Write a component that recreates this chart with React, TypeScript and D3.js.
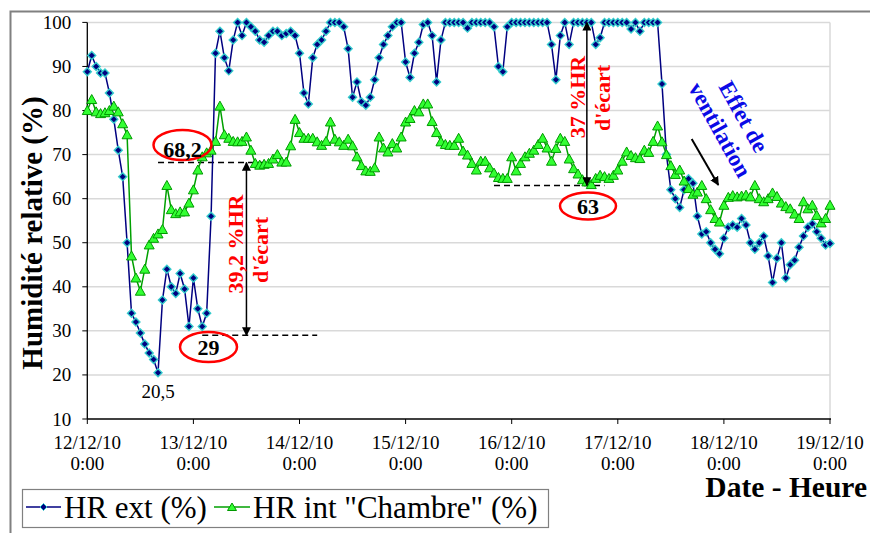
import { useEffect, useRef } from 'react'
import * as d3 from 'd3'

// time axis: one reading per hour from 12/12/10 0:00 to 19/12/10 0:00
const startDate = new Date(2010, 11, 12, 0, 0)
const endDate = new Date(2010, 11, 19, 0, 0)
const dayLabels = ['12/12/10', '13/12/10', '14/12/10', '15/12/10', '16/12/10', '17/12/10', '18/12/10', '19/12/10']
const hourLabel = '0:00'
const yTicks = [10, 20, 30, 40, 50, 60, 70, 80, 90, 100]

// HR ext (%)
const hrExt = [
  88.8, 92.5, 90, 88.5, 88.5, 84, 78, 71, 65, 50, 34, 32, 29.5, 27, 25, 23.5, 20.5, 37, 44, 40, 38.5, 43, 39.5, 31,
  42, 35, 31, 34, 56, 93, 98, 92, 89, 96, 100, 97, 100, 99, 98, 96, 95.5, 97, 98, 98, 97, 97.5, 98, 97,
  93, 84, 81.5, 92, 95, 96, 98, 100, 100, 100, 99, 94, 83, 86.5, 82, 81.2, 83, 87, 92, 95, 97, 99, 100, 100,
  91, 87.5, 93, 95.5, 99.5, 100, 97, 86.5, 96, 100, 100, 100, 100, 100, 98.7, 100, 100, 100, 100, 100, 99, 90, 88.8, 99,
  100, 100, 100, 100, 100, 100, 100, 100, 100, 95, 87, 97, 100, 95, 100, 100, 100, 100, 100, 95, 96.5, 100, 100, 100,
  100, 100, 100, 98.5, 100, 98, 100, 100, 100, 100, 86, 70, 62, 60, 58, 62, 64.5, 63.5, 56, 52, 52.5, 50, 48.5, 47.5,
  51, 53.5, 54, 53.5, 55.5, 54, 50, 48.5, 50, 51.5, 47, 41, 46.5, 50, 42, 45, 46, 49, 51.5, 53.5, 54.3, 52.5, 51, 49.5,
  49.8
]

// HR int "Chambre" (%)
const hrInt = [
  80, 82.5, 79.7, 79.3, 79.5, 80, 81, 79.7, 77, 74.5, 47, 42, 39, 44, 49.5, 51, 52, 53, 63, 57.5, 56.6, 57, 57, 59,
  62, 66.5, 69.5, 70.4, 71, 73, 81, 74.5, 73.7, 73, 72.9, 73, 74, 71, 68, 67.6, 67.8, 68, 69, 70, 68.3, 68.3, 72, 78,
  75, 73.7, 73.7, 73.7, 72.9, 72.1, 73, 77.4, 73.5, 72.9, 72.1, 73.5, 72, 69.5, 67.5, 66.3, 66.2, 67, 74, 71.5, 70.6, 72.5, 71.5, 74,
  77.4, 78.2, 80, 79.7, 81.5, 81.5, 77.5, 75, 72.9, 72.3, 72.1, 72.1, 73.7, 70.8, 69.9, 68, 66.5, 68.5, 68.5, 67, 65.8, 64.8, 64.6, 64.6,
  69.5, 66.3, 68, 69.5, 70.3, 71, 72.3, 73.7, 71.5, 68.5, 71.4, 73.7, 73, 69, 66.8, 65.6, 64.3, 63.8, 63.2, 64.6, 65.3, 65, 64.6, 65.3,
  66.5, 68.5, 70.6, 69.8, 69.3, 69.1, 71, 70.5, 73, 76.5, 72.9, 70, 67.5, 65.5, 66.5, 64, 62.3, 61, 61.5, 63, 60, 57.5, 55.5, 54.7,
  58.5, 60.3, 60.7, 60.4, 60.6, 60.8, 60.4, 63, 60, 59.3, 60, 61.3, 60.5, 59, 58.2, 57.7, 56.5, 55.5, 59.3, 57.7, 58.5, 56.2, 54.5, 55.5,
  58.5
]

// annotations (values in %HR, positions in hours from start)
const gapA = { high: 68.2, low: 29, arrowHour: 36.7, highFrom: 16, highTo: 40.2, lowFrom: 26.2, lowTo: 52.2 }
const gapB = { high: 100, low: 63, arrowHour: 113.6, lowFrom: 92.7, lowTo: 117.9 }
const minExt = { value: 20.5, hour: 16 }

const serif = "'Liberation Serif', 'Times New Roman', serif"

export default function App() {
  const svgRef = useRef<SVGSVGElement>(null)

  useEffect(() => {
    document.body.style.margin = '0'
    if (!svgRef.current) return

    const svg = d3.select(svgRef.current)
    svg.selectAll('*').remove()

    const left = 87.3, right = 830, top = 22.4, bottom = 419

    const x = d3.scaleTime().domain([startDate, endDate]).range([left, right])
    const y = d3.scaleLinear().domain([10, 100]).range([bottom, top])
    const at = (h: number) => x(d3.timeHour.offset(startDate, h))

    const defs = svg.append('defs')
    defs.append('marker')
      .attr('id', 'arrow')
      .attr('viewBox', '0 0 10 10')
      .attr('refX', 9).attr('refY', 5)
      .attr('markerWidth', 9).attr('markerHeight', 9)
      .attr('markerUnits', 'userSpaceOnUse')
      .attr('orient', 'auto-start-reverse')
      .append('path')
      .attr('d', 'M0,0 L10,5 L0,10 Z')
      .style('fill', 'black')

    // outer frame
    svg.append('rect')
      .attr('x', 10.5).attr('y', 11.5)
      .attr('width', 900).attr('height', 600)
      .style('fill', 'white')
      .style('stroke', '#808080')
      .style('stroke-width', '2px')

    // gridlines
    svg.append('g')
      .selectAll('line')
      .data(yTicks.filter(t => t > 10))
      .enter()
      .append('line')
      .attr('x1', left).attr('x2', right)
      .attr('y1', d => y(d)).attr('y2', d => y(d))
      .style('stroke', '#d9d9d9')
      .style('stroke-width', '1.5px')

    svg.append('line')
      .attr('x1', right).attr('x2', right)
      .attr('y1', top).attr('y2', bottom)
      .style('stroke', '#d9d9d9')
      .style('stroke-width', '1.5px')

    // axes
    svg.append('line')
      .attr('x1', left).attr('x2', left).attr('y1', top).attr('y2', bottom)
      .style('stroke', 'black').style('stroke-width', '1.3px')
    svg.append('line')
      .attr('x1', left).attr('x2', right + 1).attr('y1', bottom).attr('y2', bottom)
      .style('stroke', 'black').style('stroke-width', '1.3px')

    const yAxis = svg.append('g')
    yAxis.selectAll('line')
      .data(yTicks)
      .enter()
      .append('line')
      .attr('x1', left - 5).attr('x2', left)
      .attr('y1', d => y(d)).attr('y2', d => y(d))
      .style('stroke', 'black')
    yAxis.selectAll('text')
      .data(yTicks)
      .enter()
      .append('text')
      .attr('x', left - 16)
      .attr('y', d => y(d) + 6.5)
      .style('text-anchor', 'end')
      .style('font-family', serif)
      .style('font-size', '19px')
      .text(d => d)

    const days = d3.timeDay.range(startDate, d3.timeDay.offset(endDate, 1))
    const xAxis = svg.append('g')
    xAxis.selectAll('line')
      .data(days)
      .enter()
      .append('line')
      .attr('x1', d => x(d)).attr('x2', d => x(d))
      .attr('y1', bottom).attr('y2', bottom + 5)
      .style('stroke', 'black')
    const xLabels = xAxis.selectAll('g.lbl')
      .data(days)
      .enter()
      .append('g')
      .attr('class', 'lbl')
      .attr('transform', d => `translate(${x(d)},0)`)
    xLabels.append('text')
      .attr('y', 449)
      .style('text-anchor', 'middle')
      .style('font-family', serif)
      .style('font-size', '19px')
      .text((d, i) => dayLabels[i])
    xLabels.append('text')
      .attr('y', 470)
      .style('text-anchor', 'middle')
      .style('font-family', serif)
      .style('font-size', '19px')
      .text(hourLabel)

    // axis titles
    svg.append('text')
      .attr('transform', 'translate(42,233) rotate(-90)')
      .style('text-anchor', 'middle')
      .style('font-family', serif)
      .style('font-size', '29px')
      .style('font-weight', 'bold')
      .text('Humidité relative (%)')
    svg.append('text')
      .attr('x', 867).attr('y', 497)
      .style('text-anchor', 'end')
      .style('font-family', serif)
      .style('font-size', '29.5px')
      .style('font-weight', 'bold')
      .text('Date - Heure')

    // dashed reference lines
    const dashed = (v: number, h0: number, h1: number) =>
      svg.append('line')
        .attr('x1', at(h0)).attr('x2', at(h1))
        .attr('y1', y(v)).attr('y2', y(v))
        .style('stroke', 'black')
        .style('stroke-width', '1.4px')
        .style('stroke-dasharray', '6,4')
    dashed(gapA.high, gapA.highFrom, gapA.highTo)
    dashed(gapA.low, gapA.lowFrom, gapA.lowTo)
    dashed(gapB.low, gapB.lowFrom, gapB.lowTo)

    // series
    const line = d3.line<number>()
      .x((d, i) => at(i))
      .y(d => y(d))

    svg.append('path')
      .datum(hrExt)
      .attr('d', line)
      .style('fill', 'none')
      .style('stroke', '#000080')
      .style('stroke-width', '1.5px')
    svg.append('g')
      .selectAll('path')
      .data(hrExt)
      .enter()
      .append('path')
      .attr('transform', (d, i) => `translate(${at(i)},${y(d)})`)
      .attr('d', 'M0,-4 L4,0 L0,4 L-4,0 Z')
      .style('fill', '#000080')
      .style('stroke', '#33cccc')
      .style('stroke-width', '1.4px')

    svg.append('path')
      .datum(hrInt)
      .attr('d', line)
      .style('fill', 'none')
      .style('stroke', '#00a000')
      .style('stroke-width', '1.5px')
    svg.append('g')
      .selectAll('path')
      .data(hrInt)
      .enter()
      .append('path')
      .attr('transform', (d, i) => `translate(${at(i)},${y(d)})`)
      .attr('d', 'M0,-5 L5,4 L-5,4 Z')
      .style('fill', '#33ff33')
      .style('stroke', '#009900')
      .style('stroke-width', '1px')

    // gap arrows
    const vArrow = (h: number, v0: number, v1: number) =>
      svg.append('line')
        .attr('x1', at(h)).attr('x2', at(h))
        .attr('y1', y(v0)).attr('y2', y(v1))
        .attr('marker-start', 'url(#arrow)')
        .attr('marker-end', 'url(#arrow)')
        .style('stroke', 'black')
        .style('stroke-width', '1.5px')
    vArrow(gapA.arrowHour, gapA.high, gapA.low)
    vArrow(gapB.arrowHour, gapB.high, gapB.low)

    // ellipses with values
    const bubble = (cx: number, cy: number, rx: number, ry: number, label: string, by: number) => {
      svg.append('ellipse')
        .attr('cx', cx).attr('cy', cy).attr('rx', rx).attr('ry', ry)
        .style('fill', 'none')
        .style('stroke', '#ff0000')
        .style('stroke-width', '2.5px')
      svg.append('text')
        .attr('x', cx).attr('y', by)
        .style('text-anchor', 'middle')
        .style('font-family', serif)
        .style('font-size', '22px')
        .style('font-weight', 'bold')
        .text(label)
    }
    bubble(182.5, 145, 29, 15, '68,2', 157)
    bubble(208.5, 347, 28.5, 15, '29', 355)
    bubble(588, 206, 28, 13.5, '63', 214)

    svg.append('text')
      .attr('x', at(minExt.hour)).attr('y', 398)
      .style('text-anchor', 'middle')
      .style('font-family', serif)
      .style('font-size', '19px')
      .text(String(minExt.value).replace('.', ','))

    // rotated red notes
    const redNote = (bx: number, cy: number, label: string) =>
      svg.append('text')
        .attr('transform', `translate(${bx},${cy}) rotate(-90)`)
        .style('text-anchor', 'middle')
        .style('font-family', serif)
        .style('font-size', '22px')
        .style('font-weight', 'bold')
        .style('fill', '#ff0000')
        .text(label)
    redNote(243, 244, '39,2 %HR')
    redNote(268, 250, "d'écart")
    redNote(585, 97, '37 %HR')
    redNote(610, 98, "d'écart")

    // ventilation note
    const vent = svg.append('g')
      .attr('transform', 'translate(731.6,123.3) rotate(61)')
    vent.append('text')
      .attr('y', -6)
      .style('text-anchor', 'middle')
      .style('font-family', serif)
      .style('font-size', '23px')
      .style('font-weight', 'bold')
      .style('fill', '#0a0ae6')
      .text('Effet de')
    vent.append('text')
      .attr('y', 21)
      .style('text-anchor', 'middle')
      .style('font-family', serif)
      .style('font-size', '23px')
      .style('font-weight', 'bold')
      .style('fill', '#0a0ae6')
      .text('ventilation')
    svg.append('line')
      .attr('x1', 691.7).attr('y1', 139)
      .attr('x2', 718.3).attr('y2', 185)
      .attr('marker-end', 'url(#arrow)')
      .style('stroke', 'black')
      .style('stroke-width', '2px')

    // legend
    const legend = svg.append('g')
    legend.append('rect')
      .attr('x', 22.5).attr('y', 489.5)
      .attr('width', 526).attr('height', 38)
      .style('fill', 'white')
      .style('stroke', '#808080')
      .style('stroke-width', '1.2px')
    legend.append('line')
      .attr('x1', 26).attr('x2', 61).attr('y1', 507).attr('y2', 507)
      .style('stroke', '#000080').style('stroke-width', '1.5px')
    legend.append('path')
      .attr('transform', 'translate(43.5,507)')
      .attr('d', 'M0,-3.5 L3.5,0 L0,3.5 L-3.5,0 Z')
      .style('fill', '#000080').style('stroke', '#33cccc')
    legend.append('text')
      .attr('x', 64).attr('y', 518)
      .style('font-family', serif)
      .style('font-size', '31px')
      .text('HR ext (%)')
    legend.append('line')
      .attr('x1', 214).attr('x2', 250).attr('y1', 507).attr('y2', 507)
      .style('stroke', '#00a000').style('stroke-width', '1.5px')
    legend.append('path')
      .attr('transform', 'translate(232,507)')
      .attr('d', 'M0,-4 L4.5,3.5 L-4.5,3.5 Z')
      .style('fill', '#33ff33').style('stroke', '#009900')
    legend.append('text')
      .attr('x', 253).attr('y', 518)
      .style('font-family', serif)
      .style('font-size', '31px')
      .text('HR int "Chambre" (%)')
  }, [])

  return <svg ref={svgRef} width={870} height={533} style={{ display: 'block' }} />
}
